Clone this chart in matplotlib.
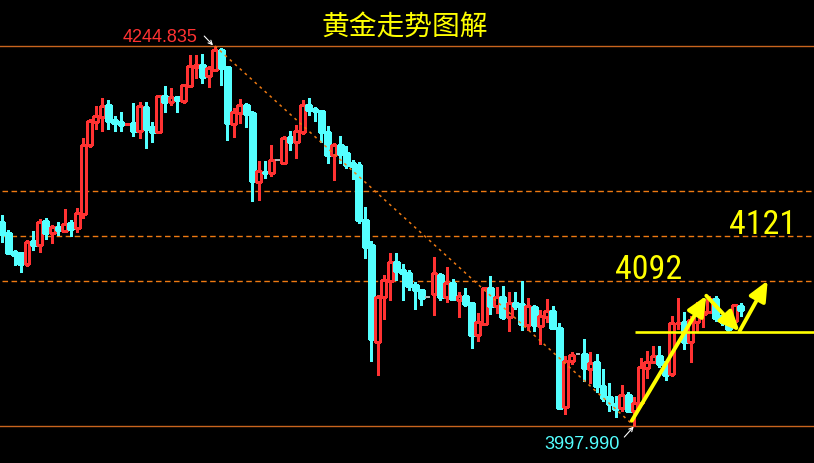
import matplotlib
matplotlib.use("Agg")
import matplotlib.pyplot as plt
from matplotlib.patches import FancyArrowPatch

# OHLC per candle (gold)
opens = [4130.7, 4123.4, 4111.0, 4110.4, 4103.4, 4118.2, 4115.8, 4131.2, 4123.6, 4127.3,
         4124.9, 4129.9, 4126.4, 4135.9, 4180.7, 4195.7, 4198.9, 4206.5, 4196.8, 4195.5,
         4194.0, 4194.8, 4189.8, 4205.0, 4192.2, 4189.2, 4212.4, 4208.7, 4211.5, 4209.3,
         4219.1, 4231.4, 4232.5, 4225.2, 4229.4, 4242.2, 4231.2, 4194.4, 4201.5, 4206.5,
         4201.3, 4156.7, 4163.0, 4162.5, 4170.6, 4169.0, 4185.7, 4182.7, 4189.2, 4206.5,
         4204.1, 4202.6, 4189.0, 4174.2, 4180.5, 4175.3, 4168.8, 4167.5, 4131.8, 4115.6,
         4052.8, 4081.6, 4092.4, 4104.3, 4099.3, 4097.4, 4089.6, 4086.3, 4081.6, 4083.9,
         4096.1, 4082.0, 4090.9, 4080.0, 4082.4, 4077.9, 4057.3, 4064.5, 4087.6, 4076.1,
         4081.8, 4069.0, 4077.9, 4077.2, 4063.8, 4075.3, 4063.1, 4069.0, 4072.7, 4061.8,
         4010.5, 4040.0, 4044.6, 4044.6, 4035.2, 4039.4, 4024.2, 4017.0, 4012.3, 4009.5,
         4018.1, 4007.9, 4012.7, 4035.9, 4039.4, 4043.4, 4039.4, 4031.8, 4064.6, 4065.3,
         4052.4, 4065.7, 4070.6, 4071.8, 4080.5, 4069.6, 4064.5, 4065.9, 4075.8]
highs = [4135.1, 4125.3, 4112.3, 4110.6, 4118.6, 4124.7, 4132.5, 4133.1, 4128.6, 4130.5,
         4139.0, 4131.8, 4139.6, 4185.1, 4197.4, 4205.9, 4211.1, 4209.8, 4199.4, 4202.0,
         4194.8, 4207.8, 4208.3, 4208.3, 4195.3, 4213.0, 4218.9, 4217.4, 4211.5, 4219.3,
         4239.0, 4239.0, 4239.6, 4231.7, 4244.835, 4243.3, 4231.7, 4204.6, 4210.2, 4207.8,
         4202.6, 4170.1, 4170.1, 4180.5, 4170.6, 4186.6, 4189.6, 4193.5, 4209.8, 4211.1,
         4205.2, 4203.1, 4192.9, 4181.8, 4186.4, 4179.9, 4170.8, 4169.5, 4140.3, 4118.2,
         4083.1, 4096.1, 4110.4, 4110.4, 4103.2, 4099.1, 4091.7, 4086.3, 4081.6, 4107.8,
         4097.4, 4101.3, 4093.5, 4085.0, 4087.6, 4077.9, 4071.4, 4087.6, 4095.4, 4088.3,
         4088.9, 4085.0, 4085.0, 4092.2, 4081.1, 4076.6, 4073.3, 4080.5, 4075.9, 4064.9,
         4043.4, 4046.1, 4044.6, 4054.5, 4045.9, 4044.6, 4035.0, 4025.9, 4017.7, 4024.6,
         4019.9, 4016.6, 4042.2, 4046.9, 4049.8, 4049.8, 4039.4, 4069.4, 4081.1, 4071.8,
         4069.3, 4078.3, 4075.7, 4082.6, 4082.2, 4069.6, 4065.5, 4077.2, 4077.9]
lows = [4117.7, 4110.0, 4102.6, 4098.2, 4102.1, 4112.5, 4111.2, 4119.5, 4116.9, 4122.1,
        4124.5, 4121.4, 4124.0, 4133.1, 4179.4, 4190.9, 4189.6, 4190.9, 4189.6, 4189.6,
        4193.6, 4186.6, 4185.1, 4178.8, 4182.7, 4189.0, 4202.2, 4206.7, 4202.2, 4207.6,
        4219.0, 4224.2, 4221.0, 4218.4, 4229.0, 4219.7, 4184.0, 4185.9, 4195.0, 4192.4,
        4144.4, 4145.0, 4159.3, 4160.6, 4170.6, 4169.0, 4177.5, 4172.1, 4187.9, 4200.0,
        4196.1, 4182.7, 4169.0, 4158.0, 4169.0, 4165.8, 4158.6, 4130.1, 4107.3, 4040.4,
        4031.1, 4067.5, 4079.8, 4093.0, 4079.8, 4086.3, 4074.0, 4076.6, 4081.6, 4070.1,
        4080.0, 4078.3, 4080.5, 4069.0, 4076.1, 4048.9, 4053.4, 4064.5, 4070.9, 4071.6,
        4067.7, 4059.9, 4074.2, 4060.5, 4060.5, 4059.9, 4051.5, 4065.7, 4061.8, 4009.9,
        4005.8, 4038.3, 4044.6, 4026.9, 4025.9, 4020.1, 4014.4, 4007.9, 4004.0, 4007.9,
        4006.9, 3997.99, 4012.5, 4029.4, 4039.2, 4036.1, 4027.9, 4030.3, 4061.0, 4048.0,
        4039.8, 4059.3, 4062.1, 4071.6, 4066.4, 4063.8, 4059.5, 4064.7, 4069.6]
closes = [4122.7, 4110.6, 4109.3, 4103.2, 4117.5, 4115.8, 4130.5, 4123.4, 4127.1, 4125.3,
          4129.0, 4126.0, 4136.4, 4180.3, 4195.9, 4199.2, 4205.7, 4196.3, 4195.0, 4193.5,
          4194.4, 4189.8, 4205.7, 4190.9, 4189.2, 4212.2, 4208.5, 4211.5, 4210.0, 4219.3,
          4231.7, 4232.5, 4224.9, 4230.4, 4242.0, 4230.7, 4195.0, 4201.8, 4206.3, 4200.9,
          4157.3, 4163.4, 4162.5, 4170.8, 4170.6, 4184.9, 4182.5, 4189.6, 4206.5, 4203.5,
          4202.8, 4189.2, 4174.2, 4180.5, 4174.9, 4167.7, 4166.9, 4131.8, 4114.5, 4054.5,
          4081.6, 4092.6, 4104.3, 4098.7, 4097.4, 4089.1, 4086.5, 4081.3, 4081.6, 4097.4,
          4082.0, 4090.9, 4080.7, 4082.4, 4077.4, 4057.3, 4065.6, 4087.6, 4076.1, 4081.8,
          4068.6, 4077.9, 4076.1, 4064.5, 4075.9, 4063.8, 4069.3, 4072.7, 4061.8, 4009.9,
          4040.0, 4043.9, 4044.6, 4035.9, 4038.7, 4024.2, 4016.2, 4012.3, 4009.0, 4017.8,
          4007.9, 4012.7, 4036.1, 4039.4, 4043.3, 4038.3, 4031.1, 4064.9, 4065.0, 4052.4,
          4067.0, 4072.9, 4071.8, 4080.5, 4068.2, 4065.7, 4061.0, 4076.6, 4073.5]

high_idx, high_price = 34, 4244.835
low_idx, low_price = 101, 3997.99
dash_levels = [4150.4, 4121.2, 4092.0]
target_labels = ["4121", "4092"]
target_pos = [(116.2, 4121.2), (97.9, 4092.0)]
support_level = 4058.9
support_start = 101.1
# yellow path: low -> swing high -> pullback -> projected break
path_x = [100.6, 112.5, 117.8, 122.3]
path_y = [4001.4, 4082.6, 4059.5, 4092.4]

RED = "#ff3232"
CYAN = "#54ffff"
GRAY = "#b4b4b4"
ORANGE = "#ee7a12"
LINE = "#c8641e"
YELLOW = "#ffff00"

fig = plt.figure(figsize=(8.14, 4.64), dpi=100, facecolor="black")
ax = fig.add_axes([0, 0, 1, 1], facecolor="black")
ax.set_xlim(-0.32, 129.7)
ax.set_ylim(3973.95, 4275.37)
ax.axis("off")

W = 0.78
for i, (o, h, l, c) in enumerate(zip(opens, highs, lows, closes)):
    if c > o:
        ax.vlines(i, l, h, color=RED, lw=0.9, antialiased=False, zorder=3)
        ax.bar(i, c - o, W, bottom=o, facecolor="black", edgecolor=RED,
               lw=0.9, antialiased=False, zorder=4)
    elif c < o:
        ax.vlines(i, l, h, color=CYAN, lw=0.9, antialiased=False, zorder=3)
        ax.bar(i, o - c, W, bottom=c, facecolor=CYAN, edgecolor=CYAN,
               lw=0.9, antialiased=False, zorder=4)
    else:
        ax.hlines(o, i - W / 2, i + W / 2, color=GRAY, lw=1.2, antialiased=False, zorder=4)

# extreme lines and levels
for lv in (high_price, low_price):
    ax.axhline(lv, color=LINE, lw=1, zorder=2)
ax.hlines(dash_levels, 0, 129.7, colors=ORANGE, lw=1, linestyles=(0, (4, 2.5)), zorder=2)
ax.plot([high_idx, low_idx], [high_price, low_price], color=ORANGE, lw=1.1,
        dashes=(1.8, 2.6), zorder=5)

# extreme labels
ax.text(31.3, 4248.1, f"{high_price:.3f}", color=RED, fontsize=13,
        family="Liberation Sans", ha="right", va="baseline")
ax.annotate("", xy=(33.7, 4245.3), xytext=(32.3, 4251.3),
            arrowprops=dict(arrowstyle="->", color="white", lw=0.8,
                            mutation_scale=7, shrinkA=0, shrinkB=0))
ax.text(86.7, 3983.7, f"{low_price:.3f}", color=CYAN, fontsize=13,
        family="Liberation Sans", ha="left", va="baseline")
ax.annotate("", xy=(100.9, 3997.6), xytext=(99.4, 3990.8),
            arrowprops=dict(arrowstyle="->", color="white", lw=0.8,
                            mutation_scale=7, shrinkA=0, shrinkB=0))

# target labels
for txt, (x, lv) in zip(target_labels, target_pos):
    ax.annotate(txt, xy=(x, lv), xytext=(0, 2.2), textcoords="offset points",
                color=YELLOW, fontsize=24.5, family="Roboto Condensed",
                ha="left", va="baseline")

# support line and projected path
ax.hlines(support_level, support_start, 129.7, color=YELLOW, lw=1.9, zorder=6)
for k in range(len(path_x) - 1):
    arr = FancyArrowPatch((path_x[k], path_y[k]), (path_x[k + 1], path_y[k + 1]),
                          arrowstyle="-|>,head_length=1.0,head_width=0.45",
                          mutation_scale=12, color=YELLOW, lw=2.8,
                          shrinkA=0, shrinkB=0, zorder=7)
    ax.add_patch(arr)

fig.text(0.4975, 0.94, "黄金走势图解", color=YELLOW, fontsize=20,
         family=["Noto Sans CJK SC", "DejaVu Sans"], ha="center", va="center")

fig.savefig("out.png", dpi=100, facecolor="black")
